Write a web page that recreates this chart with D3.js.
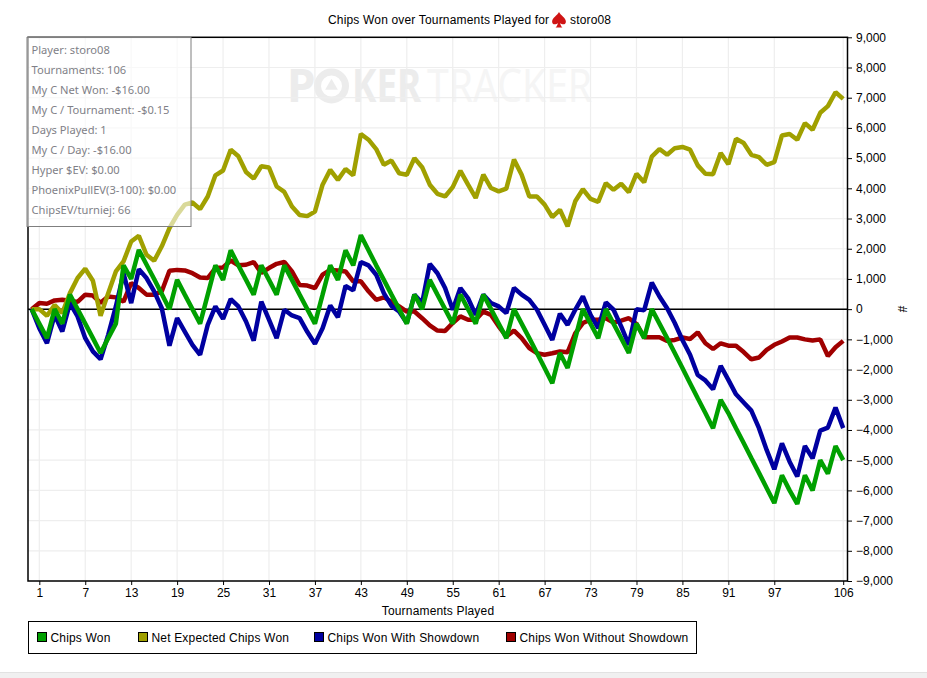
<!DOCTYPE html>
<html>
<head>
<meta charset="utf-8">
<script src="https://cdn.jsdelivr.net/npm/d3@7/dist/d3.min.js"></script>
<style>
  html, body { margin: 0; padding: 0; background: #fff; overflow: hidden; }
  text { font-family: "Liberation Sans", Arial, sans-serif; font-size: 12px; fill: #000; }
  .wide text, text.wide { letter-spacing: 0.17px; }
  .info text { font-family: "Noto Sans", sans-serif; font-size: 11.15px; fill: #7f7f87; }
</style>
</head>
<body>
<div id="chart"></div>
<script>
// values, index = tournaments played (0 is the start point)
const chipsWon = [0,-480,-960,0,-480,480,0,-480,-960,-1450,-960,-480,1450,1000,1960,1480,1000,500,0,970,480,0,-480,480,1450,970,1950,1450,970,480,1450,970,480,1450,970,480,0,-480,480,1450,970,1950,1450,2450,1950,1450,970,480,0,-480,480,0,970,480,0,-480,480,0,-480,480,0,-480,-960,0,-480,-960,-1450,-1950,-2450,-1450,-1950,-970,0,-480,-960,0,-480,-960,-1450,-480,-960,0,-480,-960,-1450,-1950,-2450,-2950,-3440,-3940,-3000,-3440,-3940,-4430,-4930,-5420,-5920,-6420,-5500,-6000,-6450,-5500,-6000,-5000,-5450,-4530,-5000]
const netExpected = [0,0,-220,140,-130,530,1030,1340,940,-220,530,1250,1580,2240,2430,1800,1600,2080,2680,3120,3460,3530,3310,3730,4430,4590,5280,5060,4540,4320,4730,4690,4060,3880,3400,3120,3080,3230,4120,4610,4280,4640,4430,5800,5610,5300,4780,4920,4500,4450,5000,4700,4120,3820,3730,4040,4580,4120,3680,4450,4010,3900,3990,4950,4450,3730,3730,3460,3050,3290,2740,3570,3970,3650,3550,4170,3950,4150,3870,4480,4200,5050,5300,5110,5330,5370,5280,4760,4480,4470,5170,4800,5640,5500,5110,5030,4780,4870,5750,5800,5610,6160,5940,6500,6720,7180,6960]
const withShowdown = [0,-630,-1130,-190,-740,200,-240,-960,-1400,-1660,-850,90,1190,200,1320,1030,590,30,-1210,-300,-740,-1180,-1510,-520,90,-320,330,90,-410,-1040,250,-350,-960,-20,-210,-300,-750,-1150,-630,120,-270,770,620,1560,1450,1140,530,110,-80,-460,480,200,1500,1190,700,-20,700,360,-190,480,200,90,-130,700,480,310,-20,-520,-1020,-150,-520,-20,420,-190,-630,220,-20,-570,-1180,0,-40,880,420,30,-460,-1020,-1510,-2180,-2360,-2650,-1880,-2340,-2820,-3090,-3360,-3940,-4660,-5300,-4440,-5050,-5540,-4530,-4940,-4020,-3920,-3260,-3940]
const withoutShowdown = [0,200,180,290,310,280,240,480,450,210,420,390,250,860,700,480,480,590,1270,1300,1280,1190,1050,1030,1360,1380,1610,1450,1470,1560,1200,1360,1500,1560,1250,800,780,700,1140,1300,1280,1250,920,920,590,310,390,250,90,-80,-80,-300,-540,-710,-720,-460,-240,-350,-350,-80,-190,-570,-900,-710,-960,-1290,-1460,-1510,-1460,-1400,-1430,-800,-460,-350,-350,-300,-440,-380,-300,-490,-930,-930,-930,-1050,-1020,-940,-990,-770,-1130,-1320,-1130,-1210,-1210,-1420,-1660,-1600,-1350,-1180,-1070,-940,-940,-1000,-1040,-1000,-1550,-1260,-1050]

const xTickLabels = [1,7,13,19,25,31,37,43,49,55,61,67,73,79,85,91,97,106]
const yTickLabels = [9000,8000,7000,6000,5000,4000,3000,2000,1000,0,-1000,-2000,-3000,-4000,-5000,-6000,-7000,-8000,-9000]
const seriesNames = ["Chips Won","Net Expected Chips Won","Chips Won With Showdown","Chips Won Without Showdown"]
const seriesColors = ["#00a000","#a0a000","#0000a0","#a00000"]
const infoLines = ["Player: storo08","Tournaments: 106","My C Net Won: -$16.00","My C / Tournament: -$0.15","Days Played: 1","My C / Day: -$16.00","Hyper $EV: $0.00","PhoenixPullEV(3-100): $0.00","ChipsEV/turniej: 66"]

const width = 927, height = 678
const plot = { left: 28, right: 847.5, top: 37.3, bottom: 581 }

const svg = d3.select("#chart").append("svg")
  .attr("width", width).attr("height", height)
  .style("display", "block")

// scales
const x = d3.scaleLinear().domain([0, 106]).range([31.65, 843.2])
const y = d3.scaleLinear().domain([-9000, 9000]).range([plot.bottom, plot.top])

// grey strip at the bottom of the window
svg.append("rect").attr("x", 0).attr("y", 672).attr("width", width).attr("height", 6).attr("fill", "#f0f0f0")
svg.append("line").attr("x1", 0).attr("x2", width).attr("y1", 672.5).attr("y2", 672.5).attr("stroke", "#e2e2e2")

// watermark, squeezed to the width it has in the picture
const mark = svg.append("g")
const wmFont = "'Noto Sans', sans-serif"
mark.append("text").attr("x", 287).attr("y", 102).text("P")
  .style("font-family", wmFont).style("font-size", "46px").style("font-weight", "700").style("fill", "#ececec")
mark.append("circle").attr("cx", 331.5).attr("cy", 86).attr("r", 14).attr("fill", "none").attr("stroke", "#ececec").attr("stroke-width", 7)
mark.append("path").attr("transform", "translate(331.5,86)").attr("fill", "#ececec")
  .attr("d", d3.symbol(d3.symbolTriangle, 70)())
mark.append("text").attr("transform", "translate(352,102) scale(0.8,1)").text("KER")
  .style("font-family", wmFont).style("font-size", "46px").style("font-weight", "700").style("fill", "#ececec")
mark.append("text").attr("transform", "translate(427,102) scale(0.85,1)").text("TRACKER")
  .style("font-family", wmFont).style("font-size", "46px").style("fill", "#f5f5f5")

// gridlines
svg.append("g").selectAll("line").data(xTickLabels).join("line")
  .attr("x1", d => x(d)).attr("x2", d => x(d))
  .attr("y1", plot.top).attr("y2", plot.bottom)
  .attr("stroke", "#eeeeee").attr("stroke-width", 1.2)
svg.append("g").selectAll("line").data(yTickLabels).join("line")
  .attr("x1", plot.left).attr("x2", plot.right)
  .attr("y1", d => y(d)).attr("y2", d => y(d))
  .attr("stroke", "#eeeeee").attr("stroke-width", 1.2)

// zero line
svg.append("line")
  .attr("x1", plot.left).attr("x2", plot.right)
  .attr("y1", y(0)).attr("y2", y(0))
  .attr("stroke", "#000").attr("stroke-width", 1.5)

// series, last legend entry is drawn first
const line = d3.line().x((d, i) => x(i)).y(d => y(d))
const allSeries = [chipsWon, netExpected, withShowdown, withoutShowdown]
d3.range(3, -1, -1).forEach(i => {
  svg.append("path").datum(allSeries[i])
    .attr("d", line)
    .attr("fill", "none")
    .attr("stroke", seriesColors[i])
    .attr("stroke-width", 4.5)
    .attr("stroke-linejoin", "bevel")
})

// plot frame
svg.append("rect")
  .attr("x", plot.left).attr("y", plot.top)
  .attr("width", plot.right - plot.left).attr("height", plot.bottom - plot.top)
  .attr("fill", "none").attr("stroke", "#000").attr("stroke-width", 1.5)

// axes
const xAxis = d3.axisBottom(x).tickValues(xTickLabels).tickFormat(d3.format("d")).tickSize(4).tickPadding(3).tickSizeOuter(0)
const gx = svg.append("g").attr("transform", `translate(0,${plot.bottom})`).call(xAxis)
gx.select(".domain").remove()
gx.selectAll("text").style("font-size", "12px").style("font-family", "'Liberation Sans', sans-serif").attr("fill", "#000")

const yAxis = d3.axisRight(y).tickValues(yTickLabels).tickFormat(d3.format(",")).tickSize(4.5).tickPadding(4).tickSizeOuter(0)
const gy = svg.append("g").attr("transform", `translate(${plot.right},0)`).call(yAxis)
gy.select(".domain").remove()
gy.selectAll("text").style("font-size", "12px").style("font-family", "'Liberation Sans', sans-serif").attr("fill", "#000")

// axis titles
svg.append("text").attr("class", "wide").attr("x", 438).attr("y", 615).attr("text-anchor", "middle").text("Tournaments Played")
svg.append("text")
  .attr("transform", "translate(898,309) rotate(90)")
  .attr("text-anchor", "middle").text("#")

// chart title
svg.append("text").attr("class", "wide").attr("x", 328).attr("y", 24).text("Chips Won over Tournaments Played for")
svg.append("text").attr("class", "wide").attr("x", 570).attr("y", 24).text("storo08")
svg.append("path")
  .attr("transform", "translate(559,20) scale(1.15)")
  .attr("fill", "#cf1414")
  .attr("d", "M0,-7C1.5,-4 6,-2 6,1.5C6,4 3,4.5 1,2.5C1.2,4.2 2,5.5 3,6.5L-3,6.5C-2,5.5 -1.2,4.2 -1,2.5C-3,4.5 -6,4 -6,1.5C-6,-2 -1.5,-4 0,-7Z")

// legend
svg.append("rect").attr("x", 28.5).attr("y", 621.5).attr("width", 668).attr("height", 32)
  .attr("fill", "#fff").attr("stroke", "#000")
const legendX = [37.5, 138.5, 314.5, 506.5]
const legend = svg.append("g").attr("class", "wide")
seriesNames.forEach((name, i) => {
  legend.append("rect").attr("x", legendX[i]).attr("y", 632.5).attr("width", 9).attr("height", 9)
    .attr("fill", seriesColors[i]).attr("stroke", "#000")
  legend.append("text").attr("x", legendX[i] + 13).attr("y", 642).text(name)
})

// info box over the plot
const info = svg.append("g").attr("class", "info")
info.append("rect").attr("x", 27).attr("y", 37.5).attr("width", 164).attr("height", 189)
  .attr("fill", "#fff").attr("fill-opacity", 0.6).attr("stroke", "#7f7f7f")
info.selectAll("text").data(infoLines).join("text")
  .attr("x", 31.5).attr("y", (d, i) => 54 + i * 20).text(d => d)
</script>
</body>
</html>
